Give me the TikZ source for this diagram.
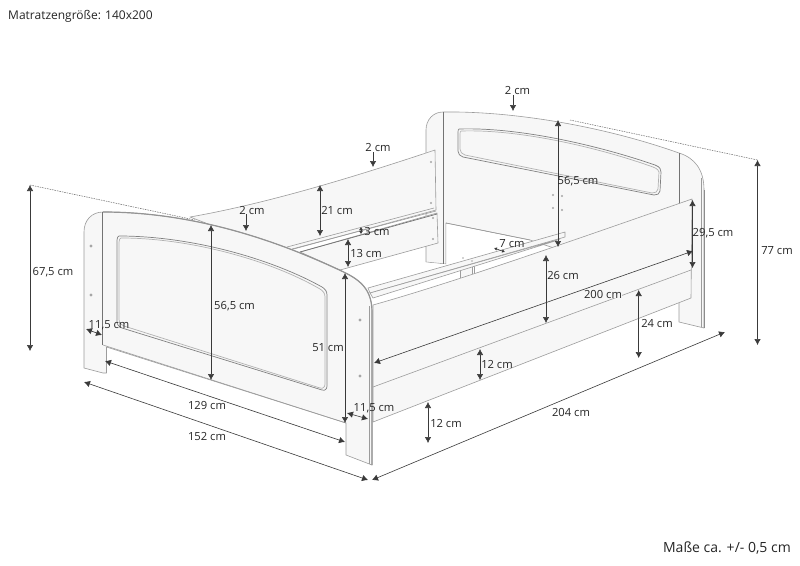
\documentclass[tikz,border=0pt]{standalone}
\usepackage{fontspec}
\setmainfont{Open Sans}
\usetikzlibrary{arrows.meta}
\definecolor{panel}{HTML}{F7F7F7}
\definecolor{edge}{HTML}{9C9C9C}
\definecolor{dimc}{HTML}{3A3A3A}
\tikzset{
  x=1pt,y=-1pt,
  part/.style={draw=edge,fill=panel,line width=0.6pt,line join=round},
  edgeline/.style={draw=edge,line width=0.6pt},
  darkedge/.style={draw=black!55,line width=0.7pt},
  thick edge/.style={draw=black!42,line width=1.2pt},
  hole/.style={fill=black!35,draw=none},
  dimline/.style={draw=dimc,line width=0.6pt,{Latex[length=6pt,width=6.5pt]}-{Latex[length=6pt,width=6.5pt]}},
  dimone/.style={draw=dimc,line width=0.6pt,-{Latex[length=6pt,width=6.5pt]}},
  dots/.style={draw=black!60,line width=0.5pt,dash pattern=on 1.5pt off 1pt},
  lbl/.style={font=\fontsize{11.2}{13}\selectfont,text=black!85,inner sep=0pt},
}
\begin{document}
\begin{tikzpicture}
\useasboundingbox (0,0) rectangle (800,565);
\fill[white] (0,0) rectangle (800,565);

% ---- head end
\path[part] (426,130) .. controls (426,120) and (433,112) .. (443,112)
  .. controls (510,111) and (600,125) .. (679,153)
  .. controls (695,158) and (704,170) .. (704,190)
  -- (704,328) -- (679,322) -- (679,290) -- (530,240) -- (446,223) -- (446,264) -- (426,262) -- cycle;
\draw[edgeline,draw=black!45] (704,190) -- (704,328);
\draw[edgeline] (701.5,178) -- (701.5,327);
\draw[darkedge] (443.5,112) -- (443.5,264);
\draw[edgeline] (446,223) -- (530,240);
\draw[darkedge] (679,153) -- (679,290);
\fill[white] (446.4,224) -- (540,243) -- (540,290) -- (446.4,290) -- cycle;
\fill[white] (446.4,264.4) -- (425,262.4) -- (425,290) -- (446.4,290) -- cycle;
\foreach \r/\c in {0/black!50,2/black!30}{
\draw[\c,line width=0.7pt]
  ({459+\r},{129+\r}) .. controls (520,{127+\r}) and (600,{146+\r}) .. ({655-\r},{165+\r})
  .. controls ({660-\r},{167+\r}) and ({661-\r},{169+\r}) .. ({661-\r},172)
  -- ({660-\r},{191-\r}) .. controls ({660-\r},{194-\r}) and ({657-\r},{195-\r}) .. ({654-\r},{195-\r})
  -- ({463+\r},{157-\r}) .. controls ({460+\r},{156-\r}) and ({458+\r},{154-\r}) .. ({458+\r},{151-\r})
  -- ({458+\r},{134+\r}) .. controls ({458+\r},{131+\r}) and ({458+\r},{129+\r}) .. ({459+\r},{129+\r});
}
\foreach \p in {(553,195),(562,196),(553,208),(562,210)}{\fill[hole] \p circle (1.2);}

% ---- back side rail
\path[part] (190,217) .. controls (270,203) and (360,175) .. (435,150)
  -- (436,210) -- (290,250) -- (250,240) -- cycle;
\draw[edgeline] (287,247) -- (434,208);
\draw[edgeline] (292,249) -- (436,211);
\path[part] (300,252) -- (437,213) -- (438,243) -- (340,270) -- cycle;
\draw[darkedge] (300,252) -- (437,214);
\foreach \p in {(431,162),(431,203),(433,218),(433,239)}{\fill[hole] \p circle (1.2);}

% ---- right side: centre support and slats
\path[part] (460.5,262) rectangle (472,286);
\draw[edgeline] (474,264) -- (474,282);
\path[part] (368,288) -- (565,232) -- (565,237) -- (370,293) -- cycle;
\path[part] (370,293) -- (560,239) -- (555,241) -- (373,298) -- cycle;
\foreach \p in {(463,258),(472,261)}{\fill[hole] \p circle (0.8);}

% ---- front side rail
\path[part] (373,305) .. controls (455,282) and (580,238) .. (692,199)
  -- (691,298) -- (373,422) -- cycle;
\draw[edgeline] (373,387) -- (691,270);

% ---- foot end
\path[part] (84,232) .. controls (84,220) and (92,212) .. (103,212)
  .. controls (190,212) and (270,238) .. (335,268)
  .. controls (355,277) and (372,285) .. (372,312)
  -- (372,465) -- (346,455) -- (346,423) -- (106.5,347) -- (106.5,373) -- (103,373) -- (84,368) -- cycle;
\draw[thick edge] (103,212) .. controls (190,212) and (270,238) .. (335,268)
  .. controls (355,277) and (372,285) .. (372,312) -- (372,465);
\draw[edgeline] (369.5,306) -- (369.5,464);
\draw[darkedge] (102.5,212) -- (102.5,345);
\draw[edgeline] (103,345) -- (346,423);
\draw[edgeline] (106.5,347) -- (106.5,373);
\foreach \r/\c in {0/black!50,2/black!30}{
\draw[\c,line width=0.7pt]
  ({119+\r},{236+\r}) .. controls (190,{236+\r}) and (270,{258+\r}) .. ({322-\r},{287+\r})
  .. controls ({325-\r},{289+\r}) and ({327-\r},{291+\r}) .. ({327-\r},{295+\r})
  -- ({327-\r},{386-\r}) .. controls ({327-\r},{389-\r}) and ({325-\r},{391-\r}) .. ({322-\r},{390-\r})
  -- ({122+\r},{328-\r}) .. controls ({119+\r},{327-\r}) and ({117+\r},{325-\r}) .. ({117+\r},{321-\r})
  -- ({117+\r},{240+\r}) .. controls ({117+\r},{238+\r}) and ({118+\r},{236+\r}) .. ({119+\r},{236+\r});
}
\foreach \p in {(91,246),(91,295),(360,320),(360,376)}{\fill[hole] \p circle (1.6);}

% ---- dotted height guides
\draw[dots] (30,185) -- (195,220);
\draw[dots] (570,120) -- (757.5,160);

% ---- dimensions
\draw[dimline] (30,185) -- (30,351);
\draw[dimline] (757.5,160) -- (757.5,345);
\draw[dimline] (211,225) -- (211,380);
\draw[dimline] (345,273) -- (345,423);
\draw[dimline] (86,329) -- (102,335);
\draw[dimline] (347,413) -- (368,419);
\draw[dimline] (105,361) -- (345,442);
\draw[dimline] (84,382) -- (368,480);
\draw[dimline] (372,480) -- (725,332);
\draw[dimline] (428,402) -- (428,443);
\draw[dimline] (480,349) -- (480,380);
\draw[dimline] (638.7,290) -- (638.7,358);
\draw[dimline] (546,255) -- (546,323);
\draw[dimline] (374,363) -- (693,251);
\draw[dimline] (692.5,200) -- (692.5,268);
\draw[dimline] (558,120) -- (558,247);
\draw[dimone] (513,95) -- (513,111);
\draw[dimline,{Latex[length=3pt,width=3.5pt]}-{Latex[length=3pt,width=3.5pt]}] (494,248) -- (505,252);
\draw[dimone] (373,152) -- (373,167);
\draw[dimline] (320,185) -- (320,236);
\draw[dimone] (246,214) -- (246,231);
\draw[dimline,{Latex[length=3pt,width=4pt]}-{Latex[length=3pt,width=4pt]}] (361,227) -- (361,234);
\draw[dimline] (348,239) -- (348,267);

% ---- labels
\node[lbl] (tA) at (53,272) {67,5 cm};
\node[lbl] (tB) at (777,251) {77 cm};
\node[lbl] (tC) at (234.5,306) {56,5 cm};
\node[lbl] (tD) at (328,348) {51 cm};
\node[lbl] (tE) at (109,325) {11,5 cm};
\node[lbl] (tF) at (374,408) {11,5 cm};
\node[lbl] (tG) at (207,405) {129 cm};
\node[lbl] (tH) at (207,436) {152 cm};
\node[lbl] (tI) at (571,412) {204 cm};
\node[lbl] (tJ) at (446,423) {12 cm};
\node[lbl] (tK) at (497,364) {12 cm};
\node[lbl] (tL) at (657,323) {24 cm};
\node[lbl] (tM) at (563,275) {26 cm};
\node[lbl,fill=panel] (tN) at (603,294) {200 cm};
\node[lbl] (tO) at (713,233) {29,5 cm};
\node[lbl] (tP) at (578,181) {56,5 cm};
\node[lbl] (tQ) at (517.5,90) {2 cm};
\node[lbl] (tR) at (512,244) {7 cm};
\node[lbl] (tS) at (378,147) {2 cm};
\node[lbl] (tT) at (337,210) {21 cm};
\node[lbl] (tU) at (252,210) {2 cm};
\node[lbl] (tV) at (377,231) {3 cm};
\node[lbl] (tW) at (366,253) {13 cm};
\node[lbl,anchor=west,font=\fontsize{12}{14}\selectfont] (tX) at (8,16) {Matratzengröße: 140x200};
\node[lbl,anchor=east,font=\fontsize{14}{16}\selectfont] (tY) at (791,548) {Maße ca. +/- 0,5 cm};
\end{tikzpicture}
\end{document}
